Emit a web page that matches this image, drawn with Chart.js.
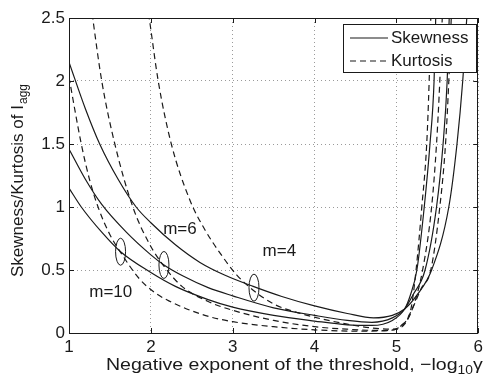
<!DOCTYPE html>
<html>
<head>
<meta charset="utf-8">
<script src="https://cdn.jsdelivr.net/npm/chart.js@4/dist/chart.umd.min.js"></script>
<style>
  html, body { margin: 0; padding: 0; background: #fff; }
  #wrap { width: 487px; height: 378px; }
</style>
</head>
<body>
<div id="wrap"><canvas id="graph" width="487" height="378"></canvas></div>
<script>
// skewness, solid lines (m = 4, 6, 10)
const skew4X = [1, 1.2, 1.375, 1.6, 1.82, 2.0, 2.3, 2.6, 2.9, 3.25, 3.6, 4.0, 4.4, 4.72, 4.95, 5.1, 5.25, 5.43, 5.64, 5.74, 5.81, 5.86, 5.92];
const skew4Y = [2.15, 1.78, 1.5, 1.22, 1.0, 0.875, 0.7, 0.56, 0.46, 0.37, 0.29, 0.215, 0.155, 0.12, 0.14, 0.19, 0.3, 0.5, 1.0, 1.5, 2.0, 2.5, 2.9];
const skew6X = [1, 1.2, 1.4, 1.7, 2.0, 2.16, 2.4, 2.7, 3.0, 3.5, 4.0, 4.4, 4.7, 4.95, 5.1, 5.2, 5.35, 5.49, 5.57, 5.62, 5.645, 5.67];
const skew6Y = [1.46, 1.22, 1.02, 0.8, 0.62, 0.54, 0.45, 0.36, 0.295, 0.2, 0.14, 0.1, 0.085, 0.12, 0.19, 0.3, 0.5, 1.0, 1.5, 2.0, 2.5, 2.9];
const skew10X = [1, 1.15, 1.4, 1.63, 2.0, 2.3, 2.7, 3.0, 3.5, 4.0, 4.4, 4.7, 4.95, 5.1, 5.17, 5.25, 5.34, 5.41, 5.46, 5.48, 5.5];
const skew10Y = [1.15, 1.0, 0.8, 0.645, 0.48, 0.37, 0.265, 0.205, 0.14, 0.095, 0.065, 0.06, 0.1, 0.19, 0.3, 0.5, 1.0, 1.5, 2.0, 2.5, 2.8];

// kurtosis, dashed lines (m = 4, 6, 10)
const kurt4X = [1.9, 1.98, 2.09, 2.25, 2.48, 2.66, 2.85, 3.05, 3.25, 3.5, 3.8, 4.1, 4.4, 4.7, 4.95, 5.1, 5.2, 5.3, 5.42, 5.53, 5.6, 5.64, 5.67, 5.69];
const kurt4Y = [2.85, 2.5, 2.0, 1.5, 1.05, 0.82, 0.63, 0.46, 0.34, 0.23, 0.16, 0.11, 0.07, 0.04, 0.03, 0.08, 0.2, 0.35, 0.5, 1.0, 1.5, 2.0, 2.5, 2.8];
const kurt6X = [1.22, 1.29, 1.4, 1.56, 1.78, 1.98, 2.16, 2.38, 2.7, 3.0, 3.5, 4.0, 4.4, 4.8, 5.0, 5.1, 5.2, 5.32, 5.43, 5.49, 5.53, 5.56, 5.58];
const kurt6Y = [2.85, 2.5, 2.0, 1.5, 1.0, 0.71, 0.53, 0.37, 0.25, 0.18, 0.1, 0.05, 0.03, 0.02, 0.03, 0.07, 0.2, 0.5, 1.0, 1.5, 2.0, 2.5, 2.8];
const kurt10X = [1, 1.15, 1.25, 1.355, 1.5, 1.63, 1.86, 2.05, 2.22, 2.66, 3.0, 3.5, 4.0, 4.5, 4.9, 5.06, 5.18, 5.24, 5.31, 5.37, 5.4, 5.42, 5.43];
const kurt10Y = [2.03, 1.5, 1.22, 1.0, 0.78, 0.64, 0.43, 0.32, 0.255, 0.14, 0.09, 0.05, 0.025, 0.015, 0.02, 0.06, 0.2, 0.5, 1.0, 1.5, 2.0, 2.5, 2.8];

// tick values
const xTicks = [1, 2, 3, 4, 5, 6];
const yTicks = [0, 0.5, 1, 1.5, 2, 2.5];

// "m=" annotations: text spot and ellipse spot
const annLabels = ["m=4", "m=6", "m=10"];
const annTextX = [3.57, 2.355, 1.51];
const annTextY = [0.65, 0.825, 0.32];
const ringX = [3.26, 2.16, 1.63];
const ringY = [0.36, 0.54, 0.645];

const legendLabels = ["Skewness", "Kurtosis"];

const FONT = "'Liberation Sans', Arial, Helvetica, sans-serif";
const INK = "#1a1a1a";

function pts(xs, ys) {
  return xs.map((x, i) => ({ x: x, y: ys[i] }));
}

function curve(label, xs, ys, dashed) {
  return {
    label: label,
    data: pts(xs, ys),
    showLine: true,
    borderColor: INK,
    borderWidth: 1.2,
    borderDash: dashed ? [6, 4] : [],
    pointRadius: 0,
    fill: false,
    cubicInterpolationMode: "monotone",
    clip: 0
  };
}

const datasets = [
  curve("Skewness", skew4X, skew4Y, false),
  curve("Skewness", skew6X, skew6Y, false),
  curve("Skewness", skew10X, skew10Y, false),
  curve("Kurtosis", kurt4X, kurt4Y, true),
  curve("Kurtosis", kurt6X, kurt6Y, true),
  curve("Kurtosis", kurt10X, kurt10Y, true)
];

// box, inner ticks, legend, labels and axis titles
const framePlugin = {
  id: "frame",
  afterDraw(chart) {
    const ctx = chart.ctx;
    const a = chart.chartArea;
    const xs = chart.scales.x, ys = chart.scales.y;
    ctx.save();

    ctx.strokeStyle = INK;
    ctx.lineWidth = 1;
    ctx.setLineDash([]);
    ctx.strokeRect(Math.round(a.left) + 0.5, Math.round(a.top) + 0.5,
      Math.round(a.right - a.left) - 1, Math.round(a.bottom - a.top));

    ctx.beginPath();
    xTicks.forEach(v => {
      const px = Math.round(xs.getPixelForValue(v)) + 0.5;
      ctx.moveTo(px, a.bottom); ctx.lineTo(px, a.bottom - 5);
      ctx.moveTo(px, a.top); ctx.lineTo(px, a.top + 5);
    });
    yTicks.forEach(v => {
      const py = Math.round(ys.getPixelForValue(v)) + 0.5;
      ctx.moveTo(a.left, py); ctx.lineTo(a.left + 5, py);
      ctx.moveTo(a.right, py); ctx.lineTo(a.right - 5, py);
    });
    ctx.stroke();

    // m= labels and ellipses
    ctx.fillStyle = INK;
    ctx.font = "17px " + FONT;
    ctx.textAlign = "center";
    ctx.textBaseline = "middle";
    annLabels.forEach((t, i) => {
      ctx.fillText(t, xs.getPixelForValue(annTextX[i]), ys.getPixelForValue(annTextY[i]));
      ctx.beginPath();
      ctx.ellipse(xs.getPixelForValue(ringX[i]), ys.getPixelForValue(ringY[i]), 5, 13.5, 0, 0, Math.PI * 2);
      ctx.stroke();
    });

    // legend
    const lx = 343, ly = 24, lw = 133, lh = 48;
    ctx.fillStyle = "#fff";
    ctx.fillRect(lx, ly, lw, lh);
    ctx.strokeRect(lx + 0.5, ly + 0.5, lw, lh);
    ctx.fillStyle = INK;
    ctx.textAlign = "left";
    legendLabels.forEach((t, i) => {
      const y = ly + 14 + i * 23;
      ctx.beginPath();
      ctx.setLineDash(i === 0 ? [] : [6, 4]);
      ctx.lineWidth = 1.2;
      ctx.moveTo(lx + 7, y); ctx.lineTo(lx + 45, y);
      ctx.stroke();
      ctx.setLineDash([]);
      ctx.fillText(t, lx + 48, y);
    });

    // x title with subscript (slightly widened, like the original)
    ctx.save();
    ctx.textBaseline = "alphabetic";
    ctx.translate(106, 370);
    ctx.scale(1.15, 1);
    let x = 0;
    const main = "Negative exponent of the threshold, \u2212log";
    ctx.font = "17px " + FONT;
    ctx.fillText(main, x, 0);
    x += ctx.measureText(main).width;
    ctx.font = "12px " + FONT;
    ctx.fillText("10", x, 4);
    x += ctx.measureText("10").width;
    ctx.font = "17px " + FONT;
    ctx.fillText("\u03b3", x, 0);
    ctx.restore();

    // y title with subscript
    ctx.textBaseline = "alphabetic";
    ctx.translate(23, 277);
    ctx.rotate(-Math.PI / 2);
    const ymain = "Skewness/Kurtosis of I";
    ctx.font = "17px " + FONT;
    ctx.fillText(ymain, 0, 0);
    const w = ctx.measureText(ymain).width;
    ctx.font = "12px " + FONT;
    ctx.fillText("agg", w + 1, 4);

    ctx.restore();
  }
};

new Chart(document.getElementById("graph"), {
  type: "scatter",
  data: { datasets: datasets },
  options: {
    responsive: false,
    animation: false,
    devicePixelRatio: 1,
    layout: { padding: { top: 18, right: 4.5, left: 0, bottom: 0 } },
    plugins: { legend: { display: false }, tooltip: { enabled: false } },
    scales: {
      x: {
        type: "linear", min: 1, max: 6,
        afterBuildTicks: s => { s.ticks = xTicks.map(v => ({ value: v })); },
        afterFit: s => { s.height = 45; },
        ticks: { color: INK, font: { family: FONT, size: 17 }, padding: 4, maxRotation: 0, callback: v => String(v) },
        grid: { color: "#9a9a9a", lineWidth: 1, drawTicks: false },
        border: { display: false, dash: [1, 3] }
      },
      y: {
        min: 0, max: 2.5,
        afterBuildTicks: s => { s.ticks = yTicks.map(v => ({ value: v })); },
        afterFit: s => { s.width = 69; },
        ticks: { color: INK, font: { family: FONT, size: 17 }, padding: 4, callback: v => String(v) },
        grid: { color: "#9a9a9a", lineWidth: 1, drawTicks: false },
        border: { display: false, dash: [1, 3] }
      }
    }
  },
  plugins: [framePlugin]
});
</script>
</body>
</html>
